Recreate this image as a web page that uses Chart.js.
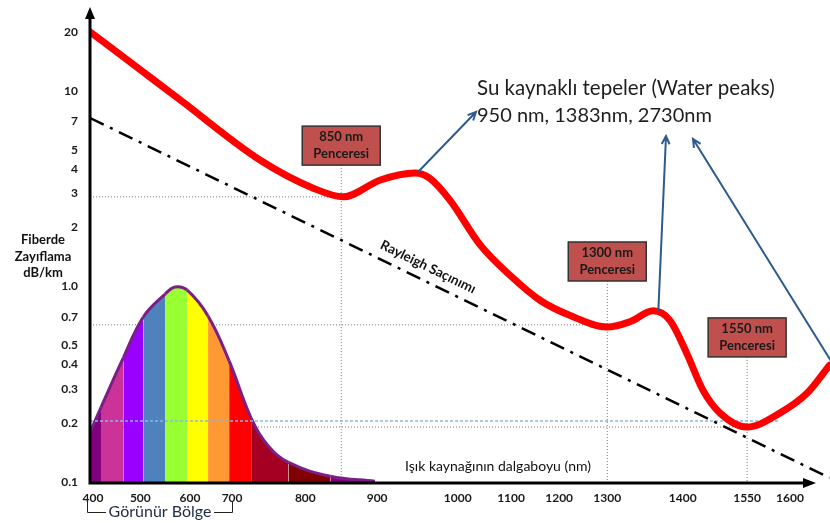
<!DOCTYPE html>
<html>
<head>
<meta charset="utf-8">
<script src="https://cdn.jsdelivr.net/npm/chart.js@4.4.0/dist/chart.umd.min.js"></script>
<style>
  html, body { margin: 0; padding: 0; background: #fff; }
  #wrap { width: 830px; height: 523px; }
</style>
</head>
<body>
<div id="wrap"><canvas id="c" width="830" height="523"></canvas></div>
<script>
// ---- axes -------------------------------------------------------------
// x axis of the original is not uniform: each tick sits at its own place
const xTicks = [400, 500, 600, 700, 800, 900, 1000, 1100, 1200, 1300, 1400, 1550, 1600];
const xMin = 393.6, xMax = 1646.5;
// position of xMin, each tick, xMax along the axis, in % of axis length
const xTickPct = [0, 0.4, 6.8, 13.5, 19.2, 29.1, 38.8, 49.7, 56.9, 63.4, 69.9, 80.1, 88.8, 94.6, 100];
const yTicks = [0.1, 0.2, 0.3, 0.4, 0.5, 0.7, 1, 2, 3, 4, 5, 7, 10, 20];
const yMin = 0.1, yMax = 25.9;

// ---- series -----------------------------------------------------------
const lossWl = [394, 479, 580, 738, 811, 853, 904, 947, 965, 990, 1042, 1098, 1160, 1223, 1300, 1330, 1361, 1383, 1409, 1447, 1487, 1550, 1588, 1620, 1646];
const lossDb = [20.0, 14.0, 9.0, 4.43, 3.18, 2.87, 3.50, 3.80, 3.58, 2.77, 1.63, 1.14, 0.85, 0.71, 0.62, 0.66, 0.75, 0.67, 0.457, 0.295, 0.225, 0.191, 0.225, 0.285, 0.396];

const rayleighWl = [394, 1646];
const rayleighDb = [7.26, 0.105];

// visible spectrum bell, one colour per segment
const visWl  = [394, 417, 464, 506, 550, 570, 594, 643, 693, 726, 748, 777, 835, 897];
const visVal = [0.180, 0.241, 0.431, 0.698, 0.914, 0.993, 0.959, 0.706, 0.416, 0.212, 0.155, 0.126, 0.107, 0.101];
const visColors = ['#800080', '#CC3399', '#9900FF', '#4F81BD', '#99FF33', '#99FF33', '#FFFF00',
                   '#FF9933', '#FF0000', '#A50021', '#A50021', '#800000', '#800080'];

// window guide lines: [wl, level, box bottom level]
const windows = [[850, 2.87, 4.17], [1300, 0.636, 1.066], [1550, 0.191, 0.436]];
const windowLabels = ['850 nm', '1300 nm', '1550 nm'];
const blueLevel = 0.205, blueEnd = 1588;

// ---- warped x scale ---------------------------------------------------
const knotWl = [xMin, ...xTicks, xMax];
function warp(v) {
  let i = 1;
  while (i < knotWl.length - 1 && v > knotWl[i]) i++;
  const f0 = xTickPct[i - 1] / 100, f1 = xTickPct[i] / 100;
  return f0 + (v - knotWl[i - 1]) * (f1 - f0) / (knotWl[i] - knotWl[i - 1]);
}
function unwarp(d) {
  let i = 1;
  while (i < knotWl.length - 1 && d * 100 > xTickPct[i]) i++;
  const f0 = xTickPct[i - 1] / 100, f1 = xTickPct[i] / 100;
  return knotWl[i - 1] + (d - f0) * (knotWl[i] - knotWl[i - 1]) / (f1 - f0);
}
class WarpScale extends Chart.LinearScale {
  getPixelForValue(v) { return v === null ? NaN : this.getPixelForDecimal(warp(v)); }
  getValueForPixel(p) { return unwarp(this.getDecimalForPixel(p)); }
}
WarpScale.id = 'warp';
WarpScale.defaults = Chart.LinearScale.defaults;
Chart.register(WarpScale);

const FONT = 'Lato, "Open Sans", sans-serif';
const pts = (xs, ys) => xs.map((x, i) => ({ x, y: ys[i] }));

const refLines = [];
windows.forEach(w => {
  refLines.push([{ x: xMin, y: w[1] }, { x: w[0], y: w[1] }]);
  refLines.push([{ x: w[0], y: w[2] }, { x: w[0], y: yMin }]);
});

// ---- annotations ------------------------------------------------------
function arrow(ctx, x1, y1, x2, y2) {
  const a = Math.atan2(y2 - y1, x2 - x1), h = 9;
  ctx.beginPath();
  ctx.moveTo(x1, y1); ctx.lineTo(x2, y2);
  ctx.moveTo(x2 - h * Math.cos(a - 0.45), y2 - h * Math.sin(a - 0.45));
  ctx.lineTo(x2, y2);
  ctx.lineTo(x2 - h * Math.cos(a + 0.45), y2 - h * Math.sin(a + 0.45));
  ctx.stroke();
}

const annot = {
  id: 'annot',
  afterDatasetsDraw(chart) {
    const { ctx, chartArea: ca, scales: { x, y } } = chart;
    const P = (wl, v) => [x.getPixelForValue(wl), y.getPixelForValue(v)];
    ctx.save();

    // axes with arrows
    ctx.strokeStyle = '#000'; ctx.fillStyle = '#000'; ctx.lineWidth = 3;
    ctx.beginPath();
    ctx.moveTo(ca.left, ca.bottom + 1); ctx.lineTo(ca.left, ca.top + 6);
    ctx.moveTo(ca.left - 1.5, ca.bottom + 1); ctx.lineTo(ca.right - 22, ca.bottom + 1);
    ctx.stroke();
    ctx.beginPath();
    ctx.moveTo(ca.left, ca.top - 3); ctx.lineTo(ca.left - 5, ca.top + 9); ctx.lineTo(ca.left + 5, ca.top + 9); ctx.closePath();
    ctx.moveTo(ca.right - 14, ca.bottom + 1); ctx.lineTo(ca.right - 27, ca.bottom - 4); ctx.lineTo(ca.right - 27, ca.bottom + 6); ctx.closePath();
    ctx.fill();

    // window boxes
    windows.forEach((w, i) => {
      const [cx, by] = P(w[0], w[2]);
      const bw = 78, bh = 39;
      ctx.fillStyle = '#C0504D'; ctx.strokeStyle = '#333'; ctx.lineWidth = 1.5;
      ctx.fillRect(cx - bw / 2, by - bh, bw, bh);
      ctx.strokeRect(cx - bw / 2, by - bh, bw, bh);
      ctx.fillStyle = '#1a1a1a'; ctx.font = 'bold 13px ' + FONT;
      ctx.textAlign = 'center'; ctx.textBaseline = 'middle';
      ctx.fillText(windowLabels[i], cx, by - bh + 11);
      ctx.fillText('Penceresi', cx, by - bh + 28);
    });

    // water peak arrows
    ctx.strokeStyle = '#2E5A8C'; ctx.lineWidth = 2;
    let [ax, ay] = P(947, 3.8);
    arrow(ctx, ax + 3, ay - 1, ca.left + 386, 112);
    [ax, ay] = P(1361, 0.75);
    arrow(ctx, ax + 5, ay + 1, ca.left + 576, 136);
    arrow(ctx, ca.right + 1, ca.bottom - 121, ca.left + 603, 139);

    // texts
    ctx.fillStyle = '#1e1e1e'; ctx.textAlign = 'left'; ctx.textBaseline = 'alphabetic';
    ctx.font = '20.5px ' + FONT;
    ctx.fillText('Su kaynaklı tepeler (Water peaks)', ca.left + 387, 95);
    ctx.font = '20px ' + FONT;
    ctx.fillText('950 nm, 1383nm, 2730nm', ca.left + 387, 122);

    ctx.font = '14px ' + FONT; ctx.textAlign = 'center'; ctx.textBaseline = 'middle';
    ctx.fillStyle = '#111';
    ctx.fillText('Işık kaynağının dalgaboyu (nm)', ca.left + 408, 466);

    ctx.save();
    ctx.translate(ca.left + 338, 267);
    ctx.rotate(Math.atan(0.4865));
    ctx.font = 'bold 13.5px ' + FONT;
    ctx.fillText('Rayleigh Saçınımı', 0, 0);
    ctx.restore();

    ctx.font = 'bold 13px ' + FONT; ctx.fillStyle = '#111';
    ctx.fillText('Fiberde', 43, 240);
    ctx.fillText('Zayıflama', 43, 257);
    ctx.fillText('dB/km', 43, 273);

    // visible region bracket
    ctx.strokeStyle = '#222'; ctx.lineWidth = 1;
    ctx.beginPath();
    ctx.moveTo(87.5, 502); ctx.lineTo(87.5, 512.5); ctx.lineTo(106, 512.5);
    ctx.moveTo(214, 512.5); ctx.lineTo(232.5, 512.5); ctx.lineTo(232.5, 502);
    ctx.stroke();
    ctx.font = '16px ' + FONT; ctx.fillStyle = '#1F2A44';
    ctx.fillText('Görünür Bölge', 160, 512);
    ctx.restore();
  }
};

const grey = { borderColor: '#777', borderWidth: 1, borderDash: [1, 2], pointRadius: 0, fill: false, order: 6 };

new Chart(document.getElementById('c'), {
  type: 'line',
  data: {
    datasets: [
      { data: pts(lossWl, lossDb), borderColor: '#FF0000', borderWidth: 7,
        cubicInterpolationMode: 'monotone',
        pointRadius: 0, fill: false, order: 1, borderCapStyle: 'round' },
      { data: pts(rayleighWl, rayleighDb), borderColor: '#000', borderWidth: 2.5,
        borderDash: [15, 7, 3, 7], pointRadius: 0, fill: false, order: 2 },
      { data: [{ x: xMin, y: blueLevel }, { x: blueEnd, y: blueLevel }], borderColor: '#8DB4E2',
        borderWidth: 1.5, borderDash: [3, 2], pointRadius: 0, fill: false, order: 3 },
      { data: pts(visWl, visVal), borderColor: '#7B1F86', borderWidth: 3, tension: 0.4,
        pointRadius: 0, fill: 'start', backgroundColor: '#800080', order: 4,
        segment: { backgroundColor: c => visColors[c.p0DataIndex] } },
      ...refLines.map(d => Object.assign({ data: d }, grey))
    ]
  },
  options: {
    responsive: false,
    animation: false,
    devicePixelRatio: 1,
    layout: { padding: { top: 10, left: 0, right: 0, bottom: 0 } },
    plugins: { legend: { display: false }, tooltip: { enabled: false } },
    scales: {
      x: {
        type: 'warp', min: xMin, max: xMax,
        grid: { display: false, drawTicks: false }, border: { display: false },
        afterBuildTicks: s => { s.ticks = xTicks.map(v => ({ value: v })); },
        afterFit: s => { s.height = 41; s.paddingLeft = 0; s.paddingRight = 0; },
        ticks: { autoSkip: false, maxRotation: 0, padding: 9, color: '#1a1a1a',
                 font: { family: FONT, size: 12, weight: 'bold' }, callback: v => String(v) }
      },
      y: {
        type: 'logarithmic', min: yMin, max: yMax,
        grid: { display: false, drawTicks: false }, border: { display: false },
        afterBuildTicks: s => { s.ticks = yTicks.map(v => ({ value: v })); },
        afterFit: s => { s.width = 90; s.paddingTop = 0; s.paddingBottom = 0; },
        ticks: { padding: 12, color: '#1a1a1a', font: { family: FONT, size: 12, weight: 'bold' },
                 callback: v => v === 1 ? '1.0' : String(v) }
      }
    }
  },
  plugins: [annot]
});
</script>
</body>
</html>
